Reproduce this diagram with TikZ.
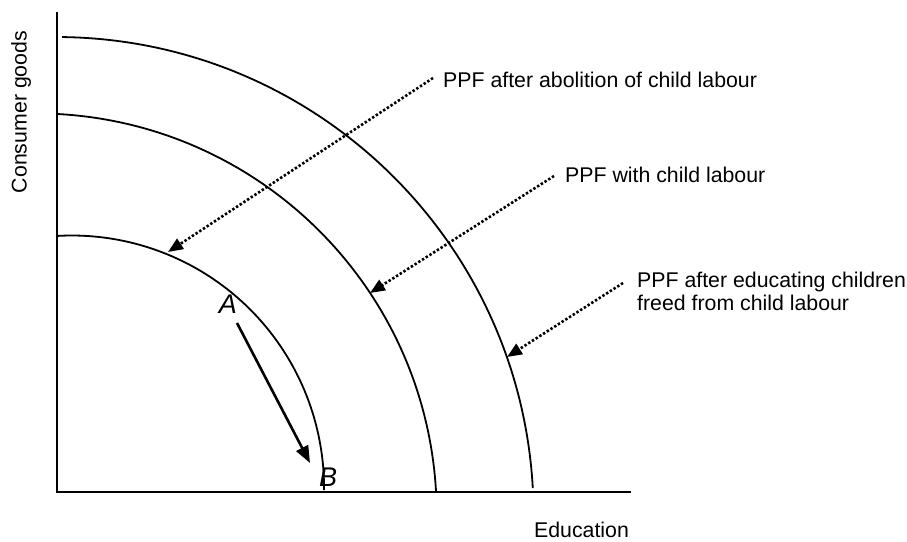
\documentclass[tikz,border=0pt]{standalone}
\usepackage{fontspec}
\setmainfont{Liberation Sans}
\usetikzlibrary{arrows.meta}
\begin{document}
\begin{tikzpicture}[x=1pt,y=1pt,
  axisline/.style={line width=2pt},
  ppfcurve/.style={line width=1.8pt},
  dotarrow/.style={line width=2.6pt, dash pattern=on 2.4pt off 2pt,
    -{Triangle[length=15pt,width=12pt]}},
  movearrow/.style={line width=2.6pt, -{Triangle[length=17pt,width=13pt]}},
  lab/.style={font=\fontsize{21.3}{23.5}\selectfont, inner sep=0pt, anchor=west, align=left},
  pt/.style={font=\fontsize{27}{29}\selectfont\itshape, inner sep=0pt}
]
\useasboundingbox (0,0) rectangle (907,541);
% axes
\coordinate (O) at (57,49);
\coordinate (ytop) at (57,529);
\coordinate (xend) at (631,49);
\draw[axisline] (ytop) -- (O) -- (xend);
% PPF curves (circular arcs)
\draw[ppfcurve] (71.65,53.1) ++(93.55:252.4) arc[start angle=93.55, end angle=-0.5, radius=252.4];
\draw[ppfcurve] (35.8,26.7) ++(86.8:400.9) arc[start angle=86.8, end angle=3.19, radius=400.9];
\draw[ppfcurve] (55.95,26.4) ++(89.27:477.6) arc[start angle=89.27, end angle=3.19, radius=477.6];
% axis labels
\node[lab, anchor=center, rotate=90] (ylab) at (21,429) {Consumer goods};
\node[lab, anchor=center] (xlab) at (581.5,11) {Education};
% curve labels
\node[lab] (l1) at (443,461) {PPF after abolition of child labour};
\node[lab] (l2) at (565,366) {PPF with child labour};
\node[lab] (l3) at (637,249.5) {PPF after educating children\\freed from child labour};
\coordinate (t1) at (168,289);
\coordinate (t2) at (370,248);
\coordinate (t3) at (507,184);
\draw[dotarrow] ([xshift=-10pt,yshift=2pt]l1.west) -- (t1);
\draw[dotarrow] ([xshift=-11pt,yshift=-1pt]l2.west) -- (t2);
\draw[dotarrow] ([xshift=-14pt,yshift=8.5pt]l3.west) -- (t3);
% points A, B
\node[pt] (A) at (228,237) {A};
\node[pt] (B) at (328,63.5) {B};
\coordinate (ms) at (237,218);
\coordinate (me) at (310,78);
\draw[movearrow] (ms) -- (me);
\end{tikzpicture}
\end{document}
